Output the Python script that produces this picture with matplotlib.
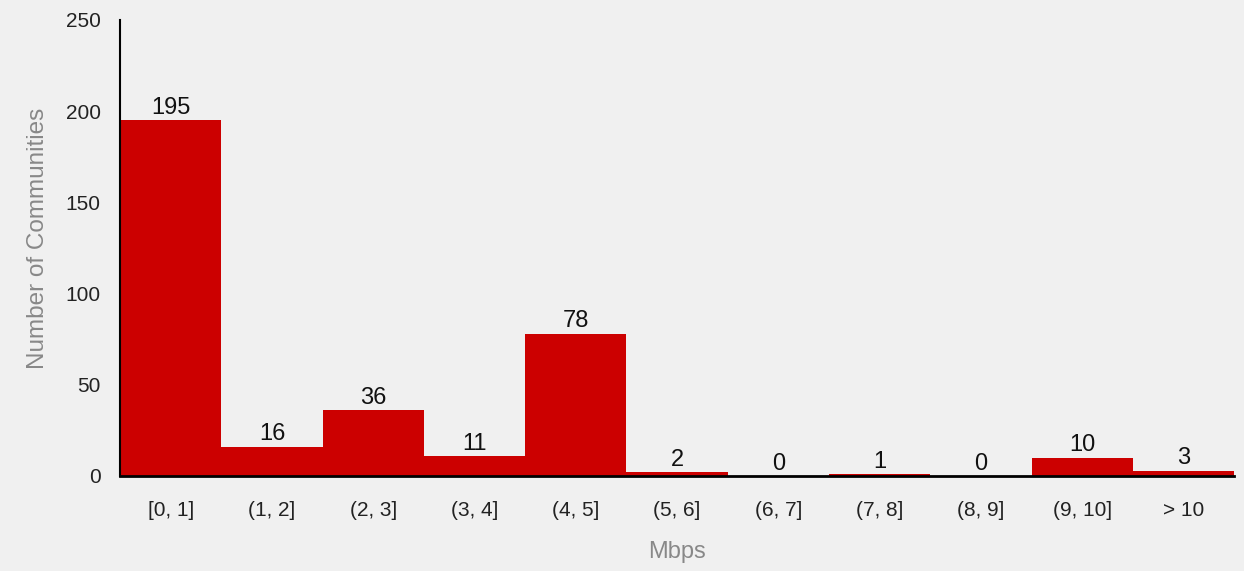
import matplotlib
matplotlib.use("Agg")
import matplotlib.pyplot as plt

categories = ["[0, 1]", "(1, 2]", "(2, 3]", "(3, 4]", "(4, 5]", "(5, 6]",
              "(6, 7]", "(7, 8]", "(8, 9]", "(9, 10]", "> 10"]
counts = [195, 16, 36, 11, 78, 2, 0, 1, 0, 10, 3]
y_ticks = [0, 50, 100, 150, 200, 250]

plt.rcParams["font.family"] = ["Liberation Sans", "DejaVu Sans"]

bg = "#f0f0f0"
fig = plt.figure(figsize=(12.44, 5.71), dpi=100, facecolor=bg)
ax = fig.add_axes([0.0965, 0.1664, 0.8955, 0.7986], facecolor=bg)

x = list(range(len(categories)))
ax.bar(x, counts, width=1.0, color="#cc0000", edgecolor="none")

for xi, v in zip(x, counts):
    ax.annotate(str(v), (xi, v), xytext=(0, 1), textcoords="offset points",
                ha="center", va="bottom", fontsize=17, color="#111111")

ax.set_xlim(-0.5, len(categories) - 0.5)
ax.set_ylim(0, 250)
ax.set_xticks(x)
ax.set_xticklabels(categories)
ax.set_yticks(y_ticks)
ax.tick_params(axis="both", length=0, labelsize=15, colors="#222222")
ax.tick_params(axis="x", pad=18)
ax.tick_params(axis="y", pad=14)

for side in ("top", "right"):
    ax.spines[side].set_visible(False)
ax.spines["left"].set_linewidth(1.5)
ax.spines["bottom"].set_linewidth(2)
ax.spines["left"].set_color("black")
ax.spines["bottom"].set_color("black")

ax.set_xlabel("Mbps", fontsize=17, color="#888888", labelpad=15)
ax.set_ylabel("Number of Communities", fontsize=17.5, color="#888888")
ax.yaxis.set_label_coords(-0.064, 0.52)

fig.savefig("out.png", dpi=100, facecolor=bg)
